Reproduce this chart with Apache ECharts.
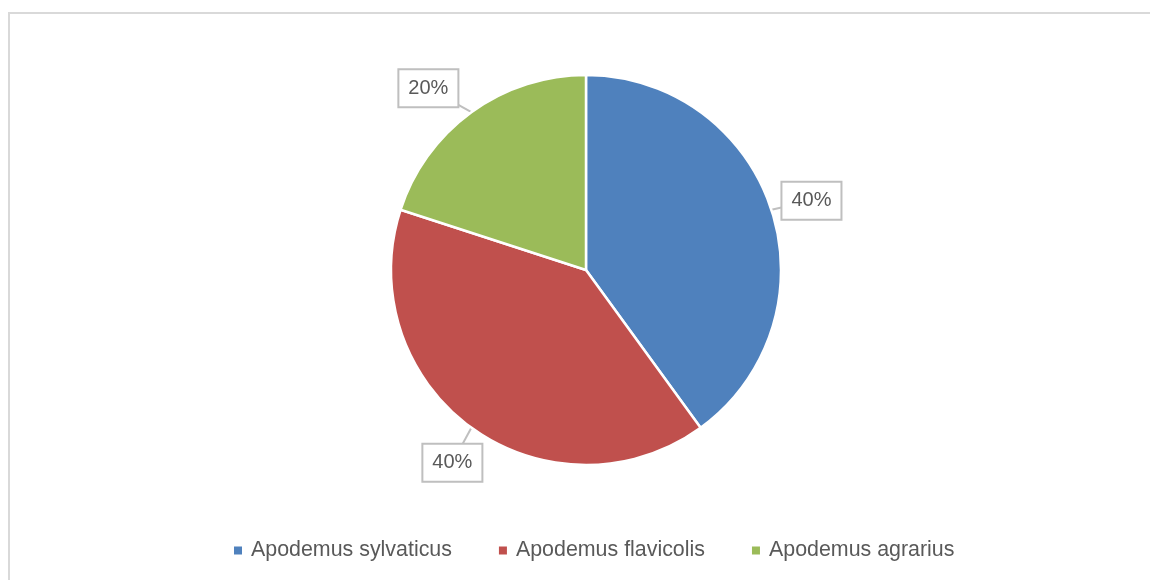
<!DOCTYPE html>
<html lang="en">
<head>
    <meta charset="UTF-8">
    <title>Apodemus</title>
    <script src="https://cdn.jsdelivr.net/npm/echarts@6/dist/echarts.min.js"></script>
    <style>
        body{
            margin: 0;
            background: #fff;
        }
        .frame{
            position: absolute;
            left: 8px;
            top: 12px;
            width: 1300px;
            height: 800px;
            border: 2px solid #d9d9d9;
        }
        #main{
            position: absolute;
            left: 0;
            top: 0;
            width: 1150px;
            height: 580px;
        }
    </style>
</head>
<body>
<div class="frame"></div>
<div id="main"></div>

<script>
    // data
    var species = ['Apodemus sylvaticus', 'Apodemus flavicolis', 'Apodemus agrarius'];
    var shares = [40, 40, 20];
    var colors = ['#4f81bd', '#c0504d', '#9bbb59'];

    // where each callout box sits relative to its slice edge (px)
    var calloutOffsets = [[40, -9], [-19, 35], [-43, -24]];
    var boxW = 60, boxH = 38;

    var myChart = echarts.init(document.getElementById('main'));

    var pieData = [];
    for (var i = 0; i < species.length; i++) {
        pieData.push({name: species[i], value: shares[i], itemStyle: {color: colors[i]}});
    }

    var option = {
        animation: false,
        legend: {
            bottom: 14,
            left: 227,
            icon: 'rect',
            itemWidth: 10,
            itemHeight: 10,
            itemGap: 45,
            textStyle: {
                fontFamily: 'Liberation Sans, Arial, sans-serif',
                fontSize: 21.4,
                color: '#595959',
                padding: [0, 0, 0, 3]
            },
            data: species
        },
        series: [
            {
                type: 'pie',
                center: [586, 270],
                radius: 195,
                startAngle: 90,
                clockwise: true,
                itemStyle: {
                    borderColor: '#fff',
                    borderWidth: 2.5
                },
                label: {
                    show: true,
                    position: 'outside',
                    formatter: function (p) {
                        return Math.round(p.percent) + '%';
                    },
                    fontFamily: 'Liberation Sans, Arial, sans-serif',
                    fontSize: 20,
                    color: '#595959',
                    backgroundColor: '#fff',
                    borderColor: '#bfbfbf',
                    borderWidth: 2,
                    padding: [8, 9, 8, 9]
                },
                labelLine: {
                    show: true,
                    length: 10,
                    length2: 0,
                    lineStyle: {
                        color: '#bfbfbf',
                        width: 2
                    }
                },
                labelLayout: function (params) {
                    var p0 = params.labelLinePoints[0];
                    var off = calloutOffsets[params.dataIndex];
                    var cx = p0[0] + off[0], cy = p0[1] + off[1];
                    // point where the line from the slice edge meets the box
                    var t = Math.min(
                        off[0] !== 0 ? (boxW / 2) / Math.abs(off[0]) : 1e9,
                        off[1] !== 0 ? (boxH / 2) / Math.abs(off[1]) : 1e9
                    );
                    var ex = cx - off[0] * t, ey = cy - off[1] * t;
                    return {
                        x: cx,
                        y: cy,
                        align: 'center',
                        verticalAlign: 'middle',
                        labelLinePoints: [p0, [ex, ey], [ex, ey]]
                    };
                },
                data: pieData
            }
        ]
    };

    myChart.setOption(option);
</script>
</body>
</html>
